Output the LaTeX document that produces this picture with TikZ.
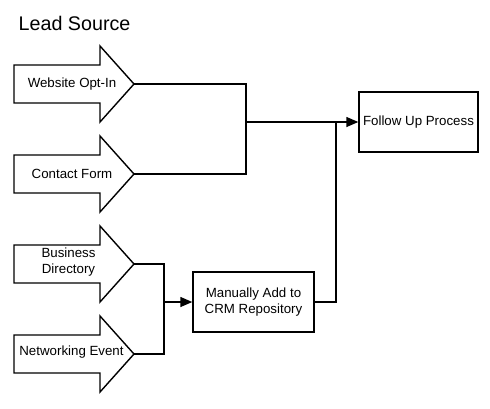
\documentclass[tikz,border=0pt]{standalone}
\usepackage{fontspec}
\setmainfont{Liberation Sans}
\usetikzlibrary{arrows.meta}
\begin{document}
\begin{tikzpicture}[x=1pt,y=1pt,
  line width=1.4pt,
  font=\fontsize{13.3}{16}\selectfont,
  srcshape/.style={draw=black,line join=miter},
  lbl/.style={align=center,inner sep=0pt},
  box/.style={draw=black,align=center,minimum width=120pt,minimum height=60pt,inner sep=2pt},
  conn/.style={draw=black,line join=miter},
  arr/.style={conn,-{Triangle[length=12pt,width=10pt]}}]
\useasboundingbox (0,0) rectangle (490,-408);
\node[anchor=base west,inner sep=0pt,font=\fontsize{19.7}{22}\selectfont] (title) at (18,-30) {Lead Source};
% source arrows
\foreach \y/\n in {84/1,174/2,264/3,354/4}{
  \draw[srcshape] (14,-\y+19) -- (100,-\y+19) -- (100,-\y+38) -- (134,-\y) -- (100,-\y-38) -- (100,-\y-19) -- (14,-\y-19) -- cycle;
  \coordinate (t\n) at (134,-\y);
}
\node[lbl] (a1) at (72,-84) {Website Opt-In};
\node[lbl] (a2) at (72,-174) {Contact Form};
\node[lbl] (a3) at (68.5,-262) {Business\\Directory};
\node[lbl] (a4) at (71.5,-352) {Networking Event};
% boxes
\node[box,minimum width=119pt] (fu) at (418.5,-122) {Follow Up Process};
\node[box,minimum width=121pt] (crm) at (253.5,-302) {Manually Add to\\CRM Repository};
% junctions
\coordinate (j1) at (246,-122);
\coordinate (j2) at (336,-122);
\coordinate (j3) at (164,-302);
\draw[conn] (t1) -| (j1) |- (t2);
\draw[arr] (j1) -- (fu.west);
\draw[conn] (crm.east) -| (j2);
\draw[conn] (t3) -| (j3) |- (t4);
\draw[arr] (j3) -- (crm.west);
\end{tikzpicture}
\end{document}
